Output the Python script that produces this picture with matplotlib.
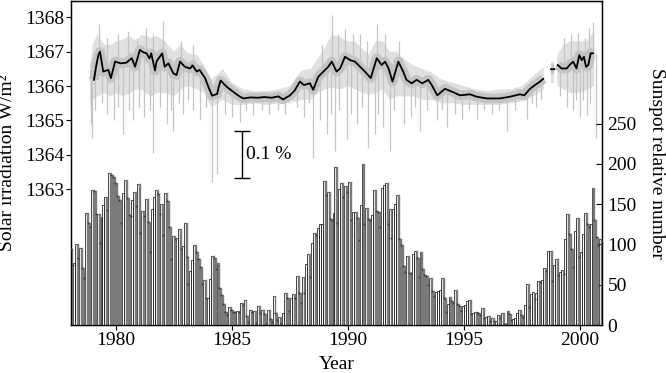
import numpy as np
import matplotlib
matplotlib.use("Agg")
import matplotlib.pyplot as plt

plt.rcParams['font.family'] = ['Liberation Serif', 'DejaVu Serif']

# ---------------- data ----------------
# Monthly sunspot relative numbers, Jan 1978 .. Dec 2000
ssn_1978 = [94, 75, 77, 100, 83, 96, 71, 58, 139, 126, 122, 168]
ssn_1979 = [166.6, 137.5, 138.0, 101.5, 134.4, 149.5, 159.4, 142.2, 188.4, 186.2, 183.3, 176.3]
ssn_1980 = [159.6, 155.0, 126.2, 164.1, 179.9, 157.3, 136.3, 135.4, 155.0, 164.7, 147.9, 174.4]
ssn_1981 = [114.0, 141.3, 135.5, 156.4, 127.5, 90.0, 143.8, 158.7, 167.3, 162.4, 137.5, 150.1]
ssn_1982 = [111.2, 163.6, 153.8, 122.0, 82.2, 110.4, 106.1, 107.6, 118.8, 94.7, 98.1, 127.0]
ssn_1983 = [84.3, 51.0, 66.5, 80.7, 99.2, 91.1, 82.2, 71.8, 50.3, 55.8, 33.3, 33.4]
ssn_1984 = [57.0, 85.1, 83.5, 69.7, 76.4, 46.1, 37.4, 25.5, 15.7, 12.0, 22.8, 18.7]
ssn_1985 = [16.5, 15.9, 17.2, 16.2, 27.5, 24.2, 30.7, 11.1, 3.9, 18.6, 16.2, 17.3]
ssn_1986 = [2.5, 23.2, 15.1, 18.5, 13.7, 1.1, 18.1, 7.4, 3.8, 35.4, 15.2, 6.8]
ssn_1987 = [10.4, 2.4, 14.7, 39.6, 33.0, 17.4, 33.0, 38.7, 33.9, 60.6, 39.9, 27.1]
ssn_1988 = [59.0, 40.0, 76.2, 88.0, 60.1, 101.8, 113.8, 111.6, 120.1, 125.1, 125.1, 179.2]
ssn_1989 = [161.3, 165.1, 131.4, 130.6, 138.5, 196.2, 126.9, 168.9, 176.7, 159.4, 173.0, 165.5]
ssn_1990 = [177.3, 130.5, 140.3, 140.3, 132.2, 105.4, 149.4, 200.3, 125.2, 145.5, 131.4, 129.7]
ssn_1991 = [136.9, 167.5, 141.9, 140.0, 121.3, 169.7, 173.7, 176.3, 125.3, 144.1, 108.2, 144.4]
ssn_1992 = [150.0, 161.1, 106.7, 99.8, 73.8, 65.2, 85.7, 64.5, 63.9, 88.7, 91.8, 82.6]
ssn_1993 = [59.3, 91.0, 69.8, 62.2, 61.3, 49.8, 57.9, 42.4, 35.6, 41.0, 42.1, 43.0]
ssn_1994 = [58.0, 32.9, 16.2, 25.7, 34.9, 30.0, 27.3, 43.8, 26.5, 23.4, 17.0, 24.0]
ssn_1995 = [24.2, 29.9, 31.1, 14.0, 14.5, 15.6, 14.5, 14.3, 11.8, 21.1, 9.0, 10.0]
ssn_1996 = [11.5, 4.4, 9.2, 4.8, 5.5, 11.8, 8.2, 14.4, 1.6, 0.9, 17.9, 13.3]
ssn_1997 = [5.7, 7.6, 8.7, 15.5, 18.5, 12.7, 10.4, 24.4, 51.3, 22.8, 39.0, 41.2]
ssn_1998 = [31.9, 40.3, 54.8, 53.4, 56.3, 70.7, 66.6, 92.2, 92.2, 55.1, 74.4, 81.9]
ssn_1999 = [62.0, 66.3, 68.8, 63.7, 106.4, 137.7, 113.5, 93.7, 71.5, 116.7, 133.2, 84.6]
ssn_2000 = [90.1, 112.9, 138.5, 125.5, 121.6, 124.9, 170.1, 130.5, 109.7, 99.4, 106.8, 104.4]
ssn_start_year = 1978

# Solar irradiance: running mean (black line); NaN = data gap
irr_mean_years = [1979.05, 1979.15, 1979.24, 1979.31, 1979.45, 1979.67, 1979.78, 1979.96, 1980.2, 1980.45,
                  1980.68, 1980.82, 1981.03, 1981.18, 1981.32, 1981.44, 1981.52, 1981.68, 1981.75, 1981.99,
                  1982.10, 1982.26, 1982.47, 1982.61, 1982.76, 1982.97, 1983.19, 1983.30, 1983.48, 1983.60,
                  1983.84, 1983.98, 1984.14, 1984.36, 1984.43, 1984.51, 1984.77, 1985.06, 1985.34, 1985.5,
                  1985.8, 1986.1, 1986.4, 1986.7, 1987.0, 1987.2, 1987.5, 1987.7, 1987.93, 1988.1,
                  1988.36, 1988.5, 1988.72, 1988.94, 1989.15, 1989.30, 1989.51, 1989.66, 1989.87, 1990.1,
                  1990.3, 1990.52, 1990.73, 1990.98, 1991.24, 1991.45, 1991.6, 1991.75, 1991.92, 1992.17,
                  1992.38, 1992.52, 1992.74, 1992.96, 1993.2, 1993.46, 1993.61, 1993.85, 1994.18, 1994.54,
                  1994.83, 1995.26, 1995.55, 1995.98, 1996.55, 1996.98, 1997.41, 1997.6, 1997.85, 1998.06,
                  1998.28, 1998.42, 1998.6, 1998.75, 1998.89, 1998.96, 1999.04, 1999.21, 1999.43, 1999.55,
                  1999.71, 1999.85, 1999.97, 2000.08, 2000.17, 2000.26, 2000.36, 2000.46, 2000.57]
irr_mean_vals = [1366.18, 1366.60, 1366.90, 1367.00, 1366.42, 1366.47, 1366.23, 1366.71, 1366.66, 1366.68,
                 1366.81, 1366.56, 1367.05, 1366.98, 1366.95, 1366.80, 1366.95, 1366.45, 1366.72, 1366.95,
                 1366.56, 1366.66, 1366.37, 1366.32, 1366.71, 1366.56, 1366.51, 1366.60, 1366.42, 1366.47,
                 1366.23, 1365.98, 1365.72, 1365.77, 1365.98, 1366.16, 1365.98, 1365.83, 1365.69, 1365.64,
                 1365.67, 1365.66, 1365.68, 1365.66, 1365.70, 1365.61, 1365.73, 1365.87, 1366.13, 1366.03,
                 1366.08, 1365.89, 1366.27, 1366.42, 1366.56, 1366.71, 1366.42, 1366.51, 1366.85, 1366.75,
                 1366.71, 1366.56, 1366.42, 1366.23, 1366.81, 1366.61, 1366.71, 1366.51, 1366.13, 1366.71,
                 1366.42, 1366.18, 1366.08, 1366.18, 1366.08, 1366.18, 1366.03, 1365.73, 1365.92, 1365.82,
                 1365.73, 1365.76, 1365.69, 1365.64, 1365.64, 1365.69, 1365.76, 1365.73, 1365.92, 1366.03,
                 1366.13, 1366.21, np.nan, 1366.49, 1366.49, np.nan, 1366.61, 1366.51, 1366.51, 1366.61,
                 1366.71, 1366.51, 1366.90, 1366.75, 1366.85, 1366.56, 1366.61, 1366.95, 1366.95]

# Solar irradiance: envelope of the daily values (grey)
irr_band_years = [1978.88, 1979.0, 1979.2, 1979.5, 1979.8, 1980.0, 1980.3, 1980.6, 1980.9, 1981.1,
                  1981.5, 1981.8, 1982.1, 1982.5, 1982.8, 1983.1, 1983.5, 1983.8, 1984.1, 1984.4,
                  1984.6, 1985.0, 1985.5, 1986.0, 1986.5, 1987.0, 1987.5, 1988.0, 1988.4, 1988.7,
                  1989.0, 1989.3, 1989.7, 1990.0, 1990.3, 1990.6, 1990.9, 1991.2, 1991.5, 1991.8,
                  1992.1, 1992.4, 1992.8, 1993.2, 1993.6, 1994.0, 1994.5, 1995.0, 1995.5, 1996.0,
                  1996.5, 1997.0, 1997.5, 1998.0, 1998.44, 1998.6, 1998.74, 1998.88, 1998.95, 1999.02,
                  1999.3, 1999.6, 2000.0, 2000.3, 2000.62]
irr_band_hi = [1366.6, 1367.2, 1367.5, 1367.2, 1367.2, 1367.3, 1367.35, 1367.45, 1367.3, 1367.5,
               1367.4, 1367.45, 1367.3, 1367.0, 1367.2, 1366.95, 1366.9, 1366.6, 1366.2, 1366.35,
               1366.5, 1366.1, 1365.9, 1365.85, 1365.85, 1365.9, 1366.0, 1366.45, 1366.5, 1366.8,
               1367.1, 1367.5, 1367.4, 1367.3, 1367.3, 1367.1, 1366.9, 1367.3, 1367.3, 1367.0,
               1367.0, 1366.8, 1366.6, 1366.5, 1366.4, 1366.2, 1366.1, 1366.0, 1365.9, 1365.85,
               1365.9, 1365.9, 1366.0, 1366.3, 1366.55, np.nan, 1366.7, 1366.7, np.nan, 1366.9,
               1367.2, 1367.3, 1367.3, 1367.3, 1367.6]
irr_band_lo = [1365.4, 1365.6, 1365.7, 1365.8, 1365.7, 1365.8, 1365.7, 1365.8, 1365.9, 1365.9,
               1365.7, 1365.8, 1365.8, 1365.7, 1365.9, 1366.0, 1365.9, 1365.8, 1365.4, 1365.5,
               1365.6, 1365.45, 1365.45, 1365.5, 1365.45, 1365.5, 1365.5, 1365.6, 1365.6, 1365.8,
               1365.9, 1365.95, 1365.9, 1366.0, 1365.9, 1365.8, 1365.75, 1365.8, 1365.9, 1365.6,
               1365.7, 1365.7, 1365.7, 1365.6, 1365.6, 1365.5, 1365.5, 1365.45, 1365.45, 1365.45,
               1365.45, 1365.5, 1365.55, 1365.7, 1365.9, np.nan, 1366.1, 1366.1, np.nan, 1366.0,
               1365.9, 1365.8, 1365.8, 1365.9, 1366.0]

# Individual daily dips and peaks
irr_dip_years = [1978.92, 1978.95, 1979.1, 1979.4, 1979.6, 1979.9, 1980.1, 1980.31, 1980.55, 1980.74,
                 1981.0, 1981.2, 1981.45, 1981.61, 1981.9, 1982.18, 1982.35, 1982.47, 1982.7, 1982.9,
                 1983.1, 1983.3, 1983.62, 1983.9, 1984.12, 1984.36, 1984.7, 1985.0, 1985.34, 1985.6,
                 1985.9, 1986.3, 1986.6, 1987.0, 1987.28, 1987.8, 1988.1, 1988.3, 1988.5, 1988.8,
                 1989.1, 1989.25, 1989.44, 1989.6, 1989.95, 1990.15, 1990.4, 1990.6, 1990.87, 1991.15,
                 1991.3, 1991.5, 1991.81, 1992.0, 1992.4, 1992.7, 1992.9, 1993.1, 1993.4, 1993.82,
                 1994.05, 1994.25, 1994.6, 1994.9, 1995.2, 1995.55, 1995.85, 1996.2, 1996.5, 1996.87,
                 1997.2, 1997.7, 1997.95, 1998.1, 1998.3, 1999.15, 1999.43, 1999.7, 1999.82, 2000.0,
                 2000.15, 2000.29, 2000.45, 2000.67]
irr_dip_vals = [1364.9, 1364.5, 1365.3, 1365.5, 1365.2, 1365.0, 1365.4, 1364.6, 1365.3, 1365.0,
                1365.4, 1365.1, 1365.3, 1364.05, 1365.4, 1364.9, 1365.3, 1364.7, 1365.5, 1365.2,
                1365.6, 1365.3, 1365.0, 1365.4, 1363.2, 1363.45, 1365.2, 1365.1, 1364.95, 1365.3,
                1365.15, 1365.3, 1365.2, 1365.3, 1365.2, 1365.4, 1365.1, 1365.5, 1363.9, 1365.0,
                1364.6, 1365.2, 1364.1, 1365.3, 1364.45, 1365.2, 1364.9, 1365.4, 1364.2, 1364.6,
                1365.2, 1364.8, 1364.1, 1365.3, 1364.9, 1365.1, 1365.4, 1364.7, 1365.3, 1365.0,
                1365.3, 1364.8, 1365.2, 1365.05, 1365.3, 1365.05, 1365.3, 1365.2, 1365.3, 1364.7,
                1365.3, 1365.05, 1365.5, 1365.4, 1365.6, 1365.7, 1365.4, 1365.3, 1365.6, 1365.1,
                1365.6, 1365.15, 1365.5, 1364.5]
irr_peak_years = [1979.28, 1979.6, 1980.1, 1980.5, 1980.9, 1981.3, 1981.6, 1982.04, 1982.8, 1983.3,
                  1988.9, 1989.3, 1989.55, 1989.87, 1990.2, 1990.5, 1990.8, 1991.24, 1991.6, 1992.2,
                  1999.3, 1999.6, 1999.9, 2000.2, 2000.4, 2000.57]
irr_peak_vals = [1367.8, 1367.4, 1367.5, 1367.6, 1367.4, 1367.7, 1367.5, 1367.9, 1367.3, 1367.2,
                 1367.2, 1368.05, 1367.5, 1367.65, 1367.5, 1367.5, 1367.3, 1367.8, 1367.5, 1367.3,
                 1367.4, 1367.5, 1367.55, 1367.4, 1367.7, 1367.85]

year_ticks = [1980, 1985, 1990, 1995, 2000]
irr_ticks = [1363, 1364, 1365, 1366, 1367, 1368]
ssn_ticks = [0, 50, 100, 150, 200, 250]

# ---------------- figure ----------------
W, H = 666, 373
FS = 14
fig = plt.figure(figsize=(W / 100, H / 100), dpi=100)
ax = fig.add_axes([71 / W, 1 - 325 / H, (602 - 71) / W, (325 - 1) / H])
ax2 = ax.twinx()

# irradiance
band_x = np.array(irr_band_years)
ax.fill_between(band_x, np.array(irr_band_lo), np.array(irr_band_hi),
                color='#e0e0e0', lw=0, zorder=1)
mx = np.array(irr_mean_years)
my = np.array(irr_mean_vals)
ok = ~np.isnan(my)
dip_top = np.interp(irr_dip_years, mx[ok], my[ok])
ax.vlines(irr_dip_years, irr_dip_vals, dip_top, color='#c4c4c4', lw=0.9, zorder=1)
peak_bot = np.interp(irr_peak_years, mx[ok], my[ok])
ax.vlines(irr_peak_years, peak_bot, irr_peak_vals, color='#c4c4c4', lw=0.9, zorder=1)
ax.plot(mx, my, color='#c4c4c4', lw=7, solid_capstyle='butt', zorder=2)
ax.plot(mx, my, color='black', lw=1.3, zorder=3)

# 0.1 % scale bar
ax.errorbar([1985.42], [1364.0], yerr=[0.683], fmt='none', ecolor='black',
            elinewidth=1.0, capsize=5.5, capthick=1.0, zorder=4)
ax.text(1985.62, 1364.0, '0.1 %', ha='left', va='center', fontsize=FS)

# sunspots
ssn = np.array(ssn_1978 + ssn_1979 + ssn_1980 + ssn_1981 + ssn_1982 + ssn_1983 +
               ssn_1984 + ssn_1985 + ssn_1986 + ssn_1987 + ssn_1988 + ssn_1989 +
               ssn_1990 + ssn_1991 + ssn_1992 + ssn_1993 + ssn_1994 + ssn_1995 +
               ssn_1996 + ssn_1997 + ssn_1998 + ssn_1999 + ssn_2000)
mon_x = ssn_start_year + np.arange(len(ssn)) / 12.0
prev = np.concatenate([[ssn[0] + 1], ssn[:-1]])
rising = ssn >= prev
falling = ~rising
ax2.bar(mon_x[rising], ssn[rising], width=1 / 12, align='edge',
        facecolor='white', edgecolor='black', lw=0.5, zorder=1)
ax2.bar(mon_x[falling], prev[falling], width=1 / 12, align='edge',
        color='#7a7a7a', edgecolor='#7a7a7a', lw=0.3, zorder=2)
ax2.plot(mon_x[falling] + 1 / 24, ssn[falling], ls='none', marker='s',
         ms=1.3, mew=0, color='#3a3a3a', zorder=3)

# axes formatting
ax.set_xlim(1978.06, 2000.95)
ax.set_ylim(1359.06, 1368.47)
ax2.set_ylim(0, 402)
ax.set_xticks(year_ticks)
ax.set_yticks(irr_ticks)
ax2.set_yticks(ssn_ticks)
ax.tick_params(axis='both', direction='out', length=3.6, width=0.8, labelsize=FS, pad=1.5)
ax2.tick_params(axis='y', direction='in', length=4.3, width=0.8, labelsize=FS, pad=4.0)
for a in (ax, ax2):
    for s in a.spines.values():
        s.set_linewidth(0.9)

ax.set_xlabel('Year', fontsize=FS, labelpad=5)
ax.set_ylabel('Solar irradiation W/m²', fontsize=FS, labelpad=6)
ax2.set_ylabel('Sunspot relative number', fontsize=FS, rotation=270,
               va='bottom', labelpad=8)

fig.savefig('out.png', dpi=100)
